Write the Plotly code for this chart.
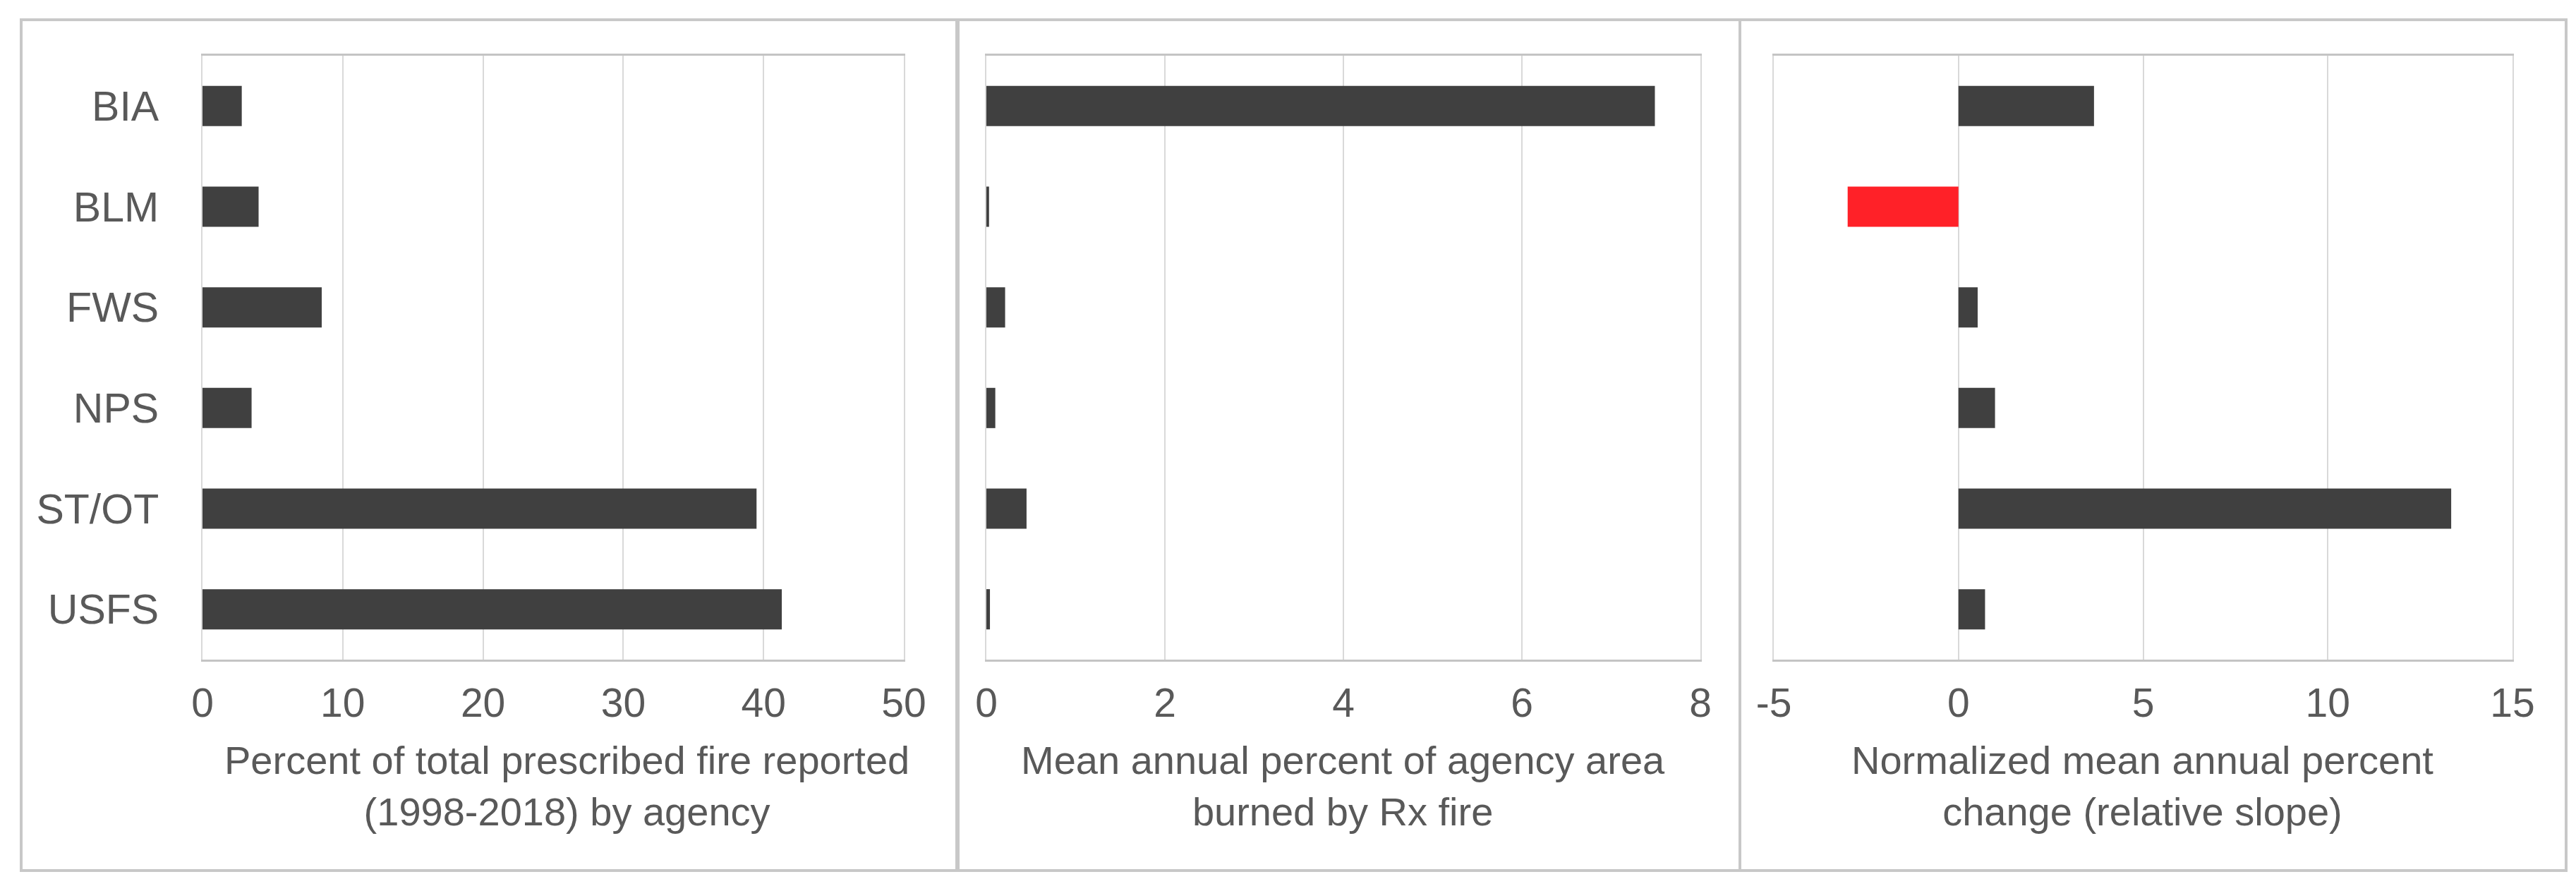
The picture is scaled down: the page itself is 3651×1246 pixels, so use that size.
import plotly.graph_objects as go

W, H = 3651, 1246

agencies = ["BIA", "BLM", "FWS", "NPS", "ST/OT", "USFS"]
pct_total_rx = [2.8, 4.0, 8.5, 3.5, 39.5, 41.3]
mean_annual_pct_area = [7.49, 0.03, 0.21, 0.10, 0.45, 0.04]
rel_slope = [3.67, -3.0, 0.52, 0.99, 13.34, 0.72]

titles = ["Percent of total prescribed fire reported<br>(1998-2018) by agency",
          "Mean annual percent of agency area<br>burned by Rx fire",
          "Normalized mean annual percent<br>change (relative slope)"]
x_tickvals = [[0, 10, 20, 30, 40, 50], [0, 2, 4, 6, 8], [-5, 0, 5, 10, 15]]
x_ticktext = [["0", "10", "20", "30", "40", "50"], ["0", "2", "4", "6", "8"],
              ["-5", "0", "5", "10", "15"]]
x_ranges = [[0, 50], [0, 8], [-5, 15]]

DARK = "#404040"
RED = "#FF2128"
GRID = "#d9d9d9"
TXT = "#595959"
FONT = "Liberation Sans, Arial, sans-serif"

# pixel layout
plot_x = [(279, 1273), (1390, 2402), (2506, 3553)]
plot_top, plot_bot = 71, 927
title_cx = [795, 1895, 3028]
panels = [(22, 1348), (1350, 2458), (2458, 3629)]
panel_top, panel_bot = 20, 1226

def px(x):
    return x / W

def py(y):
    return 1 - y / H

fig = go.Figure()
series = [pct_total_rx, mean_annual_pct_area, rel_slope]
for i, vals in enumerate(series):
    colors = [RED if v < 0 else DARK for v in vals]
    suffix = "" if i == 0 else str(i + 1)
    fig.add_trace(go.Bar(
        x=vals, y=agencies, orientation="h",
        marker=dict(color=colors, line=dict(width=0)),
        xaxis="x" + suffix, yaxis="y" + suffix, showlegend=False,
    ))

layout = dict(
    width=W, height=H,
    margin=dict(l=0, r=0, t=0, b=0, pad=0),
    paper_bgcolor="white", plot_bgcolor="white",
    bargap=0.6,
    font=dict(family=FONT, color=TXT),
    showlegend=False,
)
for i in range(3):
    suffix = "" if i == 0 else str(i + 1)
    layout["xaxis" + suffix] = dict(
        domain=[px(plot_x[i][0]), px(plot_x[i][1])],
        range=x_ranges[i], tickmode="array",
        tickvals=x_tickvals[i], ticktext=x_ticktext[i],
        showgrid=True, gridcolor=GRID, gridwidth=2,
        zeroline=False, automargin=False,
        showline=True, linecolor="#c4c4c4", linewidth=3, mirror=True,
        ticks="", ticklabelstandoff=10,
        tickfont=dict(size=57, color=TXT, family=FONT),
        anchor="y" + suffix, fixedrange=True,
    )
    layout["yaxis" + suffix] = dict(
        domain=[py(plot_bot), py(plot_top)],
        autorange="reversed", type="category",
        showgrid=False, zeroline=False, automargin=False,
        showline=True, linecolor=GRID, linewidth=2, mirror=True,
        ticks="", showticklabels=(i == 0), ticklabelstandoff=48,
        tickfont=dict(size=59, color=TXT, family=FONT),
        anchor="x" + suffix, fixedrange=True,
    )
fig.update_layout(**layout)

annotations = []
for i in range(3):
    annotations.append(dict(
        text=titles[i], xref="paper", yref="paper",
        x=px(title_cx[i]), y=py(1106), xanchor="center", yanchor="middle",
        showarrow=False, align="center",
        font=dict(size=56, color=TXT, family=FONT),
    ))
fig.update_layout(annotations=annotations)

shapes = []
for (x0, x1) in panels:
    shapes.append(dict(type="rect", xref="paper", yref="paper",
                       x0=px(x0), x1=px(x1), y0=py(panel_bot), y1=py(panel_top),
                       line=dict(color="#c8c8c8", width=4), fillcolor="rgba(0,0,0,0)",
                       layer="below"))
fig.update_layout(shapes=shapes)

fig.write_html("out.html")
